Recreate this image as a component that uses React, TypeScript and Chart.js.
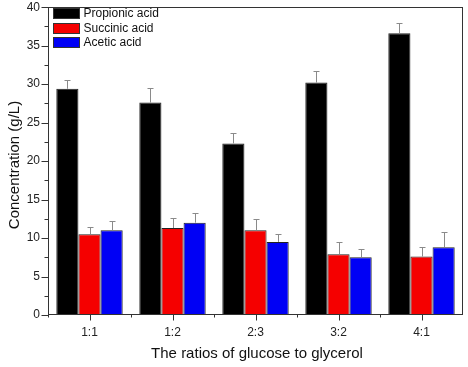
import React, { useEffect, useRef } from "react";
import { Chart, registerables } from "chart.js";

Chart.register(...registerables);

const categories = ["1:1", "1:2", "2:3", "3:2", "4:1"];
const seriesNames = ["Propionic acid", "Succinic acid", "Acetic acid"];
const seriesColors = ["#000000", "#f50000", "#0000f5"];
const propionic = [29.4, 27.6, 22.3, 30.2, 36.6];
const succinic = [10.5, 11.3, 11.0, 7.9, 7.6];
const acetic = [11.0, 12.0, 9.5, 7.5, 8.8];
const propionicErr = [1.1, 1.9, 1.3, 1.45, 1.3];
const succinicErr = [0.95, 1.35, 1.45, 1.55, 1.25];
const aceticErr = [1.2, 1.3, 1.0, 1.1, 1.95];
const yTicks = [0, 5, 10, 15, 20, 25, 30, 35, 40];
const xTitle = "The ratios of glucose to glycerol";
const yTitle = "Concentration (g/L)";

const FONT = "'Liberation Sans', Arial, sans-serif";

const decorPlugin = {
  id: "decor",
  afterDatasetsDraw(chart: any) {
    const ctx = chart.ctx;
    const errs = [propionicErr, succinicErr, aceticErr];
    const ys = chart.scales.y;
    ctx.save();
    ctx.strokeStyle = "#8a8a8a";
    ctx.lineWidth = 1;
    chart.data.datasets.forEach((ds: any, di: number) => {
      const meta = chart.getDatasetMeta(di);
      meta.data.forEach((bar: any, i: number) => {
        const v = ds.data[i];
        const e = errs[di][i];
        const x = Math.round(bar.x) + 0.5;
        const y0 = ys.getPixelForValue(v);
        const y1 = Math.round(ys.getPixelForValue(v + e)) + 0.5;
        ctx.beginPath();
        ctx.moveTo(x, y0);
        ctx.lineTo(x, y1);
        ctx.moveTo(x - 3, y1);
        ctx.lineTo(x + 3, y1);
        ctx.stroke();
      });
    });
    ctx.restore();
  },
  afterDraw(chart: any) {
    const ctx = chart.ctx;
    const a = chart.chartArea;
    const ys = chart.scales.y;
    const xs = chart.scales.x;
    ctx.save();
    // frame
    ctx.strokeStyle = "#333";
    ctx.lineWidth = 1;
    const L = Math.round(a.left) + 0.5;
    const R = Math.round(a.right) - 0.5;
    const T = Math.round(a.top) + 0.5;
    const B = Math.round(a.bottom) - 0.5;
    ctx.strokeRect(L, T, R - L, B - T);
    // y ticks
    ctx.beginPath();
    for (let k = 0; k < yTicks.length; k++) {
      const y = Math.round(ys.getPixelForValue(yTicks[k])) + 0.5;
      ctx.moveTo(L - 7, y);
      ctx.lineTo(L, y);
      if (k < yTicks.length - 1) {
        const ym = Math.round(ys.getPixelForValue((yTicks[k] + yTicks[k + 1]) / 2)) + 0.5;
        ctx.moveTo(L - 4, ym);
        ctx.lineTo(L, ym);
      }
    }
    // x ticks
    for (let i = 0; i < categories.length; i++) {
      const x = Math.round(xs.getPixelForValue(i)) + 0.5;
      ctx.moveTo(x, B);
      ctx.lineTo(x, B + 6);
      const xb = Math.round(xs.getPixelForValue(i - 0.5)) + 0.5;
      ctx.moveTo(xb, B);
      ctx.lineTo(xb, B + 3);
    }
    ctx.stroke();
    // legend
    ctx.font = `12px ${FONT}`;
    ctx.textBaseline = "middle";
    ctx.textAlign = "left";
    for (let s = 0; s < seriesNames.length; s++) {
      const top = 8 + s * 14.7;
      ctx.fillStyle = seriesColors[s];
      ctx.fillRect(53, Math.round(top), 27, 10);
      ctx.strokeStyle = "#333";
      ctx.strokeRect(53.5, Math.round(top) + 0.5, 26, 10);
      ctx.fillStyle = "#111";
      ctx.fillText(seriesNames[s], 83.5, top + 5.5);
    }
    // titles
    ctx.font = `15px ${FONT}`;
    ctx.fillStyle = "#111";
    ctx.textAlign = "center";
    ctx.fillText(xTitle, 257, 354);
    ctx.translate(15, 165);
    ctx.rotate(-Math.PI / 2);
    ctx.fillText(yTitle, 0, 0);
    ctx.restore();
  },
};

export default function App() {
  const ref = useRef<HTMLCanvasElement>(null);
  useEffect(() => {
    const chart = new Chart(ref.current!, {
      type: "bar",
      data: {
        labels: categories,
        datasets: [propionic, succinic, acetic].map((d, i) => ({
          label: seriesNames[i],
          data: d,
          backgroundColor: seriesColors[i],
          borderColor: "#222",
          borderWidth: 1,
          categoryPercentage: 0.8,
          barPercentage: 1,
        })),
      },
      options: {
        responsive: false,
        animation: false,
        devicePixelRatio: 1,
        layout: { padding: { top: 7, right: 5, left: 0, bottom: 0 } },
        plugins: { legend: { display: false }, tooltip: { enabled: false } },
        scales: {
          x: {
            grid: { display: false },
            border: { display: false },
            ticks: { color: "#222", font: { family: FONT, size: 12 }, padding: 2 },
            afterFit: (s: any) => { s.height = 52; },
          },
          y: {
            min: 0,
            max: 40,
            grid: { display: false },
            border: { display: false },
            afterBuildTicks: (s: any) => { s.ticks = yTicks.map((v) => ({ value: v })); },
            ticks: { color: "#222", font: { family: FONT, size: 12 }, padding: 0 },
            afterFit: (s: any) => { s.width = 48; },
          },
        },
      },
      plugins: [decorPlugin],
    });
    return () => chart.destroy();
  }, []);
  return (
    <div style={{ position: "fixed", left: 0, top: 0, width: 468, height: 367, background: "#fff" }}>
      <canvas ref={ref} width={468} height={367} style={{ width: 468, height: 367 }} />
    </div>
  );
}
